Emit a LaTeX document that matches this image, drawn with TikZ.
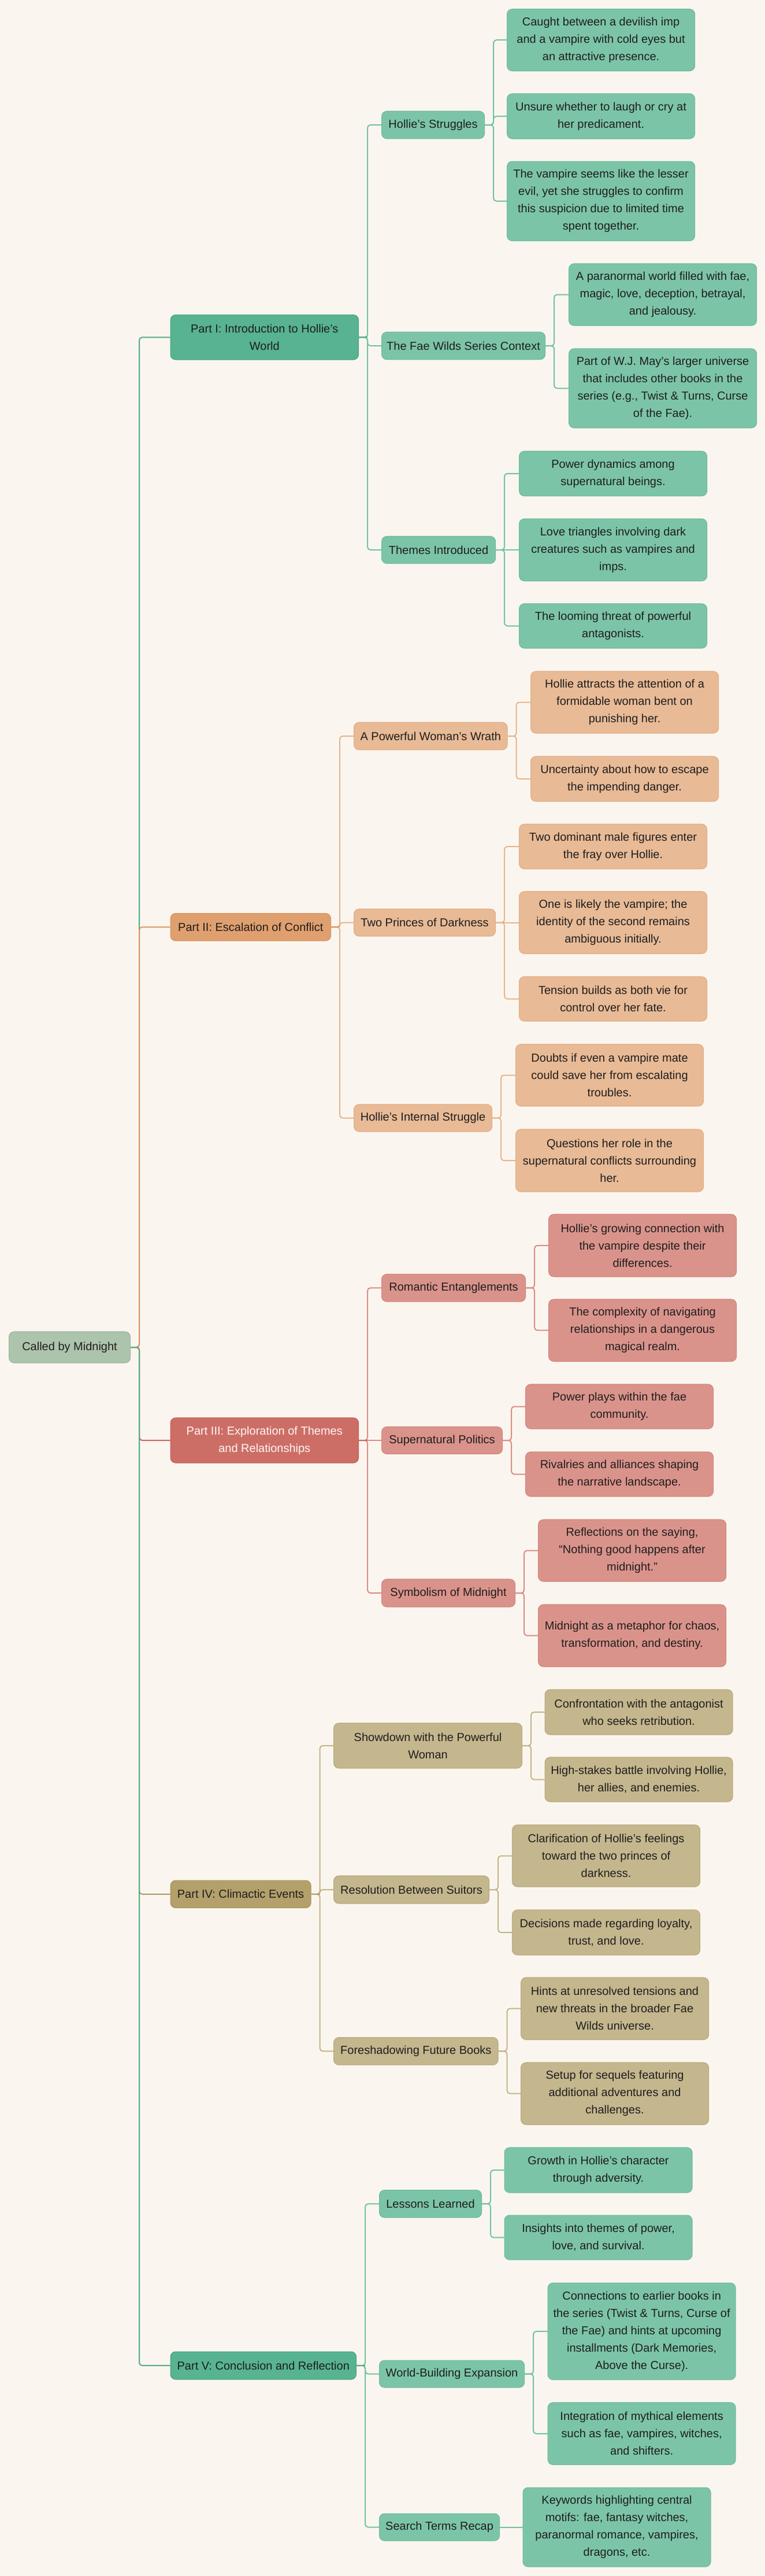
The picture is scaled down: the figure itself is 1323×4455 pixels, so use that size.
\documentclass[tikz,border=0pt]{standalone}
\usepackage{fontspec}
\setmainfont{Liberation Sans}
\definecolor{bg}{HTML}{FAF6EF}
\definecolor{txt}{HTML}{1E1E1E}
\definecolor{rootf}{HTML}{ADC4AC}\definecolor{rootd}{HTML}{9CB89A}
\definecolor{gpf}{HTML}{57B391}\definecolor{gpd}{HTML}{4AA684}
\definecolor{glf}{HTML}{7CC4A8}\definecolor{gld}{HTML}{6DBB9C}
\definecolor{opf}{HTML}{E09F6E}\definecolor{opd}{HTML}{D9925F}
\definecolor{olf}{HTML}{E8BA96}\definecolor{old}{HTML}{E3AD84}
\definecolor{rpf}{HTML}{CD6E66}\definecolor{rpd}{HTML}{C5615A}
\definecolor{rlf}{HTML}{DA938B}\definecolor{rld}{HTML}{D3847C}
\definecolor{ypf}{HTML}{B3A06A}\definecolor{ypd}{HTML}{A8955F}
\definecolor{ylf}{HTML}{C4B68D}\definecolor{yld}{HTML}{BAAA7E}
\definecolor{ge1}{HTML}{58AA8A}\definecolor{ge2}{HTML}{74C1A3}
\definecolor{oe1}{HTML}{DC9762}\definecolor{oe2}{HTML}{E8B48C}
\definecolor{re1}{HTML}{C9665E}\definecolor{re2}{HTML}{D98C84}
\definecolor{ye1}{HTML}{B09C63}\definecolor{ye2}{HTML}{C4B485}
\tikzset{
  box/.style={rounded corners=9pt, line width=1.1pt, align=center, anchor=west,
    inner xsep=8pt, inner ysep=0pt, text=txt, font=\fontsize{20}{30}\selectfont},
  leaf/.style={box, minimum width=325pt},
  rootbox/.style={box, fill=rootf, draw=rootd},
  gpart/.style={box, fill=gpf, draw=gpd}, glf/.style={fill=glf, draw=gld},
  opart/.style={box, fill=opf, draw=opd}, olf/.style={fill=olf, draw=old},
  rpart/.style={box, fill=rpf, draw=rpd, text=white!94!rpf}, rlf/.style={fill=rlf, draw=rld},
  ypart/.style={box, fill=ypf, draw=ypd}, ylf/.style={fill=ylf, draw=yld},
  edge/.style={line width=2pt, rounded corners=5pt},
}
\newcommand{\lnk}[3]{\draw[edge,#1] (#2.east) -- ++(15,0) |- (#3.west);}
\newcommand{\lnkst}[3]{\draw[line width=2pt,#1] (#2.east) -- (#3.west);}
\newcommand{\stub}[2]{\draw[line width=2pt,#1] (#2.east) -- ++(15,0);}
\begin{document}
\begin{tikzpicture}[x=1pt,y=-1pt]
\fill[bg] (0,0) rectangle (1323,4455);
\useasboundingbox (0,0) rectangle (1323,4455);

% root
\node[rootbox, minimum width=210pt, minimum height=54pt] (root) at (15,2330) {Called by Midnight};

% Part I
\node[gpart, minimum width=325.5pt, minimum height=77.5pt] (p1) at (294.5,583.3) {Part I: Introduction to Hollie’s\\World};
\node[box, glf, minimum width=178pt, minimum height=47.5pt] (s11) at (660,216) {Hollie’s Struggles};
\node[leaf, box, glf, minimum height=107pt] (l111) at (877,69.2) {Caught between a devilish imp\\and a vampire with cold eyes but\\an attractive presence.};
\node[leaf, box, glf, minimum height=78pt] (l112) at (877,201) {Unsure whether to laugh or cry at\\her predicament.};
\node[leaf, box, glf, minimum height=137.5pt] (l113) at (877,347.8) {The vampire seems like the lesser\\evil, yet she struggles to confirm\\this suspicion due to limited time\\spent together.};
\node[box, glf, minimum width=283pt, minimum height=47.5pt] (s12) at (660,598) {The Fae Wilds Series Context};
\node[leaf, box, glf, minimum height=107pt] (l121) at (984,509.5) {A paranormal world filled with fae,\\magic, love, deception, betrayal,\\and jealousy.};
\node[leaf, box, glf, minimum height=137pt] (l122) at (984,671.5) {Part of W.J. May’s larger universe\\that includes other books in the\\series (e.g., Twist \& Turns, Curse\\of the Fae).};
\node[box, glf, minimum width=197pt, minimum height=47pt] (s13) at (660,951) {Themes Introduced};
\node[leaf, box, glf, minimum height=77.5pt] (l131) at (898,819) {Power dynamics among\\supernatural beings.};
\node[leaf, box, glf, minimum height=107.5pt] (l132) at (898,951) {Love triangles involving dark\\creatures such as vampires and\\imps.};
\node[leaf, box, glf, minimum height=77pt] (l133) at (898,1082.5) {The looming threat of powerful\\antagonists.};

% Part II
\node[opart, minimum width=277.5pt, minimum height=47.5pt] (p2) at (294.5,1603.3) {Part II: Escalation of Conflict};
\node[box, olf, minimum width=265.5pt, minimum height=47.5pt] (s21) at (612,1273) {A Powerful Woman’s Wrath};
\node[leaf, box, olf, minimum height=107pt] (l211) at (918,1214.5) {Hollie attracts the attention of a\\formidable woman bent on\\punishing her.};
\node[leaf, box, olf, minimum height=78pt] (l212) at (918,1347) {Uncertainty about how to escape\\the impending danger.};
\node[box, olf, minimum width=245pt, minimum height=47pt] (s22) at (612,1595.5) {Two Princes of Darkness};
\node[leaf, box, olf, minimum height=77.5pt] (l221) at (898,1464) {Two dominant male figures enter\\the fray over Hollie.};
\node[leaf, box, olf, minimum height=107.5pt] (l222) at (898,1595.5) {One is likely the vampire; the\\identity of the second remains\\ambiguous initially.};
\node[leaf, box, olf, minimum height=77pt] (l223) at (898,1727.5) {Tension builds as both vie for\\control over her fate.};
\node[box, olf, minimum width=239pt, minimum height=47pt] (s23) at (612,1933.5) {Hollie’s Internal Struggle};
\node[leaf, box, olf, minimum height=107pt] (l231) at (892,1859.5) {Doubts if even a vampire mate\\could save her from escalating\\troubles.};
\node[leaf, box, olf, minimum height=108pt] (l232) at (892,2007) {Questions her role in the\\supernatural conflicts surrounding\\her.};

% Part III
\node[rpart, minimum width=325.5pt, minimum height=78pt] (p3) at (294.5,2491) {Part III: Exploration of Themes\\and Relationships};
\node[box, rlf, minimum width=249pt, minimum height=47.5pt] (s31) at (660,2227.3) {Romantic Entanglements};
\node[leaf, box, rlf, minimum height=108pt] (l311) at (949,2154) {Hollie’s growing connection with\\the vampire despite their\\differences.};
\node[leaf, box, rlf, minimum height=107.5pt] (l312) at (949,2300.7) {The complexity of navigating\\relationships in a dangerous\\magical realm.};
\node[box, rlf, minimum width=209pt, minimum height=47pt] (s32) at (660,2491) {Supernatural Politics};
\node[leaf, box, rlf, minimum height=77pt] (l321) at (909,2432.5) {Power plays within the fae\\community.};
\node[leaf, box, rlf, minimum height=77pt] (l322) at (909,2549.5) {Rivalries and alliances shaping\\the narrative landscape.};
\node[box, rlf, minimum width=231pt, minimum height=48pt] (s33) at (660,2755) {Symbolism of Midnight};
\node[leaf, box, rlf, minimum height=107pt] (l331) at (931,2681.5) {Reflections on the saying,\\“Nothing good happens after\\midnight.”};
\node[leaf, box, rlf, minimum height=107.5pt] (l332) at (931,2828.7) {Midnight as a metaphor for chaos,\\transformation, and destiny.};

% Part IV
\node[ypart, minimum width=243pt, minimum height=47.5pt] (p4) at (294.5,3275.8) {Part IV: Climactic Events};
\node[box, ylf, minimum width=326pt, minimum height=78pt] (s41) at (577,3019) {Showdown with the Powerful\\Woman};
\node[leaf, box, ylf, minimum height=78pt] (l411) at (942.5,2961) {Confrontation with the antagonist\\who seeks retribution.};
\node[leaf, box, ylf, minimum height=77pt] (l412) at (942.5,3077.5) {High-stakes battle involving Hollie,\\her allies, and enemies.};
\node[box, ylf, minimum width=269pt, minimum height=48pt] (s42) at (577,3268) {Resolution Between Suitors};
\node[leaf, box, ylf, minimum height=107pt] (l421) at (886,3209.5) {Clarification of Hollie’s feelings\\toward the two princes of\\darkness.};
\node[leaf, box, ylf, minimum height=78pt] (l422) at (886,3342) {Decisions made regarding loyalty,\\trust, and love.};
\node[box, ylf, minimum width=284.5pt, minimum height=47.5pt] (s43) at (577,3547.3) {Foreshadowing Future Books};
\node[leaf, box, ylf, minimum height=107.5pt] (l431) at (901,3473.7) {Hints at unresolved tensions and\\new threats in the broader Fae\\Wilds universe.};
\node[leaf, box, ylf, minimum height=107.5pt] (l432) at (901,3620.7) {Setup for sequels featuring\\additional adventures and\\challenges.};

% Part V
\node[gpart, minimum width=321.5pt, minimum height=48pt] (p5) at (294.5,4091) {Part V: Conclusion and Reflection};
\node[box, glf, minimum width=177pt, minimum height=47.5pt] (s51) at (656,3811.3) {Lessons Learned};
\node[leaf, box, glf, minimum height=78pt] (l511) at (872.5,3753) {Growth in Hollie’s character\\through adversity.};
\node[leaf, box, glf, minimum height=77pt] (l512) at (872.5,3869.5) {Insights into themes of power,\\love, and survival.};
\node[box, glf, minimum width=251pt, minimum height=47pt] (s52) at (656,4105.5) {World-Building Expansion};
\node[leaf, box, glf, minimum height=167.5pt] (l521) at (947.6,4031.8) {Connections to earlier books in\\the series (Twist \& Turns, Curse of\\the Fae) and hints at upcoming\\installments (Dark Memories,\\Above the Curse).};
\node[leaf, box, glf, minimum height=107.5pt] (l522) at (947.6,4208.7) {Integration of mythical elements\\such as fae, vampires, witches,\\and shifters.};
\node[box, glf, minimum width=208pt, minimum height=47pt] (s53) at (656,4370.5) {Search Terms Recap};
\node[leaf, box, glf, minimum height=137pt] (l531) at (904.5,4370.5) {Keywords highlighting central\\motifs: fae, fantasy witches,\\paranormal romance, vampires,\\dragons, etc.};

% connectors: Part I
\lnk{ge1}{root}{p1}
\lnk{ge2}{p1}{s11}\lnk{ge2}{p1}{s12}\lnk{ge2}{p1}{s13}
\lnk{ge2}{s11}{l111}\lnk{ge2}{s11}{l112}\lnk{ge2}{s11}{l113}
\lnk{ge2}{s12}{l121}\lnk{ge2}{s12}{l122}
\lnk{ge2}{s13}{l131}\lnkst{ge2}{s13}{l132}\lnk{ge2}{s13}{l133}
\stub{ge1}{p1}
% Part II
\lnk{oe1}{root}{p2}
\lnk{oe2}{p2}{s21}\lnk{oe2}{p2}{s22}\lnk{oe2}{p2}{s23}
\lnk{oe2}{s21}{l211}\lnk{oe2}{s21}{l212}
\lnk{oe2}{s22}{l221}\lnkst{oe2}{s22}{l222}\lnk{oe2}{s22}{l223}
\lnk{oe2}{s23}{l231}\lnk{oe2}{s23}{l232}
\stub{oe1}{p2}
% Part III
\lnk{re1}{root}{p3}
\lnk{re2}{p3}{s31}\lnkst{re2}{p3}{s32}\lnk{re2}{p3}{s33}
\lnk{re2}{s31}{l311}\lnk{re2}{s31}{l312}
\lnk{re2}{s32}{l321}\lnk{re2}{s32}{l322}
\lnk{re2}{s33}{l331}\lnk{re2}{s33}{l332}
\stub{re1}{p3}
% Part IV
\lnk{ye1}{root}{p4}
\lnk{ye2}{p4}{s41}\lnk{ye2}{p4}{s42}\lnk{ye2}{p4}{s43}
\lnk{ye2}{s41}{l411}\lnk{ye2}{s41}{l412}
\lnk{ye2}{s42}{l421}\lnk{ye2}{s42}{l422}
\lnk{ye2}{s43}{l431}\lnk{ye2}{s43}{l432}
\stub{ye1}{p4}
% Part V
\lnk{ge1}{root}{p5}
\lnk{ge2}{p5}{s51}\lnk{ge2}{p5}{s52}\lnk{ge2}{p5}{s53}
\lnk{ge2}{s51}{l511}\lnk{ge2}{s51}{l512}
\lnk{ge2}{s52}{l521}\lnk{ge2}{s52}{l522}
\lnkst{ge2}{s53}{l531}
\stub{ge1}{p5}
\end{tikzpicture}
\end{document}
